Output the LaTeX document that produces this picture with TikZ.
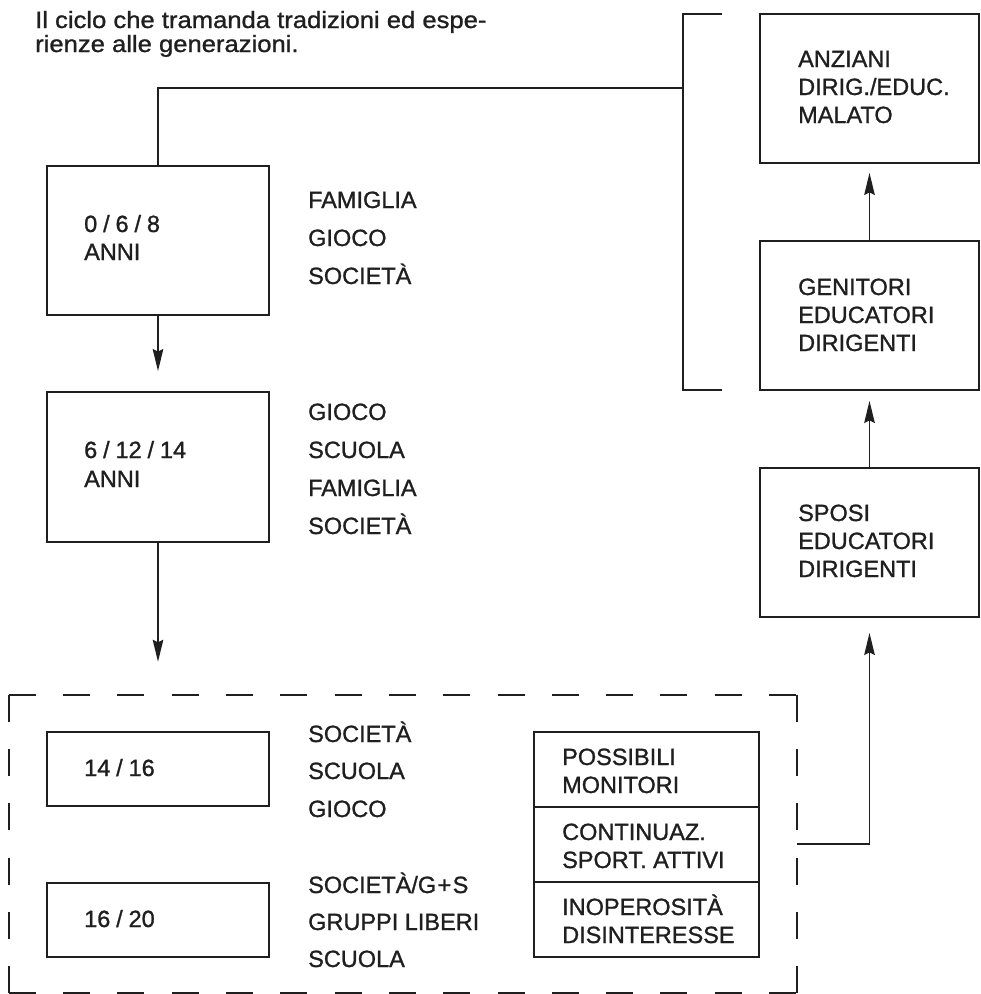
\documentclass[tikz,border=0pt]{standalone}
\usepackage{fontspec}
\setmainfont{Liberation Sans}
\newfontfamily\titlefont[FakeStretch=1.09,FakeBold=1.1]{Liberation Sans}
\newfontfamily\lblfont[FakeBold=1.1]{Liberation Sans}
\usetikzlibrary{arrows.meta}
\newcommand\slh{\kern.25em/\kern.25em}
\begin{document}
\begin{tikzpicture}[x=1pt,y=-1pt,
  box/.style={draw=black!88, line width=1.8pt, rectangle, inner sep=0pt},
  lbl/.style={anchor=base west, inner sep=0pt, text=black!88, font=\lblfont\fontsize{23.5}{27}\selectfont},
  ttl/.style={anchor=base west, inner sep=0pt, text=black!88, font=\titlefont\fontsize{23.5}{24}\selectfont},
  arr/.style={draw=black!88, line width=1.7pt, -{Stealth[length=22pt,width=10.5pt,inset=2.5pt]}},
  conn/.style={draw=black!88, line width=1.7pt},
  dsh/.style={draw=black!88, line width=1.8pt, dash pattern=on 27pt off 27.3pt}]
\useasboundingbox (0,0) rectangle (981,994);

% title
\node[ttl] (title1) at (35,28) {Il ciclo che tramanda tradizioni ed espe-};
\node[ttl] (title2) at (35,52) {rienze alle generazioni.};

% left column boxes
\node[box, minimum width=222pt, minimum height=149pt] (b1) at (158,240.5) {};
\node[box, minimum width=222pt, minimum height=150pt] (b2) at (158,467) {};
\node[box, minimum width=222pt, minimum height=74pt] (b3) at (158,769) {};
\node[box, minimum width=222pt, minimum height=74pt] (b4) at (158,920) {};

\node[lbl] (b1a) at (84,232) {0\slh 6\slh 8};
\node[lbl] (b1b) at (84,260) {ANNI};
\node[lbl] (b2a) at (84,458) {6\slh 12\slh 14};
\node[lbl] (b2b) at (84,487) {ANNI};
\node[lbl] (b3a) at (84,776) {14\slh 16};
\node[lbl] (b4a) at (84,927) {16\slh 20};

% side labels
\node[lbl] (l1a) at (308,208) {FAMIGLIA};
\node[lbl] (l1b) at (308,246) {GIOCO};
\node[lbl] (l1c) at (308,284) {SOCIETÀ};
\node[lbl] (l2a) at (308,420) {GIOCO};
\node[lbl] (l2b) at (308,458) {SCUOLA};
\node[lbl] (l2c) at (308,496) {FAMIGLIA};
\node[lbl] (l2d) at (308,534) {SOCIETÀ};
\node[lbl] (l3a) at (308,742) {SOCIETÀ};
\node[lbl] (l3b) at (308,779) {SCUOLA};
\node[lbl] (l3c) at (308,817) {GIOCO};
\node[lbl] (l4a) at (308,893) {SOCIETÀ/G\kern.06em+\kern.06em S};
\node[lbl] (l4b) at (308,930) {GRUPPI LIBERI};
\node[lbl] (l4c) at (308,967) {SCUOLA};

% stacked box
\node[box, minimum width=225pt, minimum height=75pt] (s1) at (646.5,769.5) {};
\node[box, minimum width=225pt, minimum height=75pt] (s2) at (646.5,844.5) {};
\node[box, minimum width=225pt, minimum height=75pt] (s3) at (646.5,919.5) {};
\node[lbl] (s1a) at (562,765) {POSSIBILI};
\node[lbl] (s1b) at (562,793) {MONITORI};
\node[lbl] (s2a) at (562,840) {CONTINUAZ.};
\node[lbl] (s2b) at (562,868) {SPORT. ATTIVI};
\node[lbl] (s3a) at (562,915) {INOPEROSITÀ};
\node[lbl] (s3b) at (562,943) {DISINTERESSE};

% dashed container
\node[minimum width=788pt, minimum height=298pt, inner sep=0pt] (dbox) at (403,844) {};
\draw[dsh] (dbox.north west) -- (dbox.north east);
\draw[dsh] (dbox.north east) -- (dbox.south east);
\draw[dsh] (dbox.south west) -- (dbox.south east);
\draw[dsh] (dbox.north west) -- (dbox.south west);

% right column
\node[box, minimum width=219pt, minimum height=149pt] (anz) at (869.5,88.5) {};
\node[box, minimum width=219pt, minimum height=149pt] (gen) at (869.5,315.5) {};
\node[box, minimum width=219pt, minimum height=149pt] (spo) at (869.5,542.5) {};
\node[lbl] (anza) at (798,67) {ANZIANI};
\node[lbl] (anzb) at (798,95) {DIRIG./EDUC.};
\node[lbl] (anzc) at (798,123) {MALATO};
\node[lbl] (gena) at (798,295) {GENITORI};
\node[lbl] (genb) at (798,323) {EDUCATORI};
\node[lbl] (genc) at (798,351) {DIRIGENTI};
\node[lbl] (spoa) at (798,521) {SPOSI};
\node[lbl] (spob) at (798,549) {EDUCATORI};
\node[lbl] (spoc) at (798,577) {DIRIGENTI};

% bracket and feedback
\draw[conn] (722,14) -- (683,14) -- (683,390) -- (722,390);
\coordinate (bkt) at (683,88);
\draw[conn] (bkt) -| (b1.north);

% arrows
\draw[arr, shorten >=20pt] (b1.south) -- (b2.north);
\draw[arr, shorten >=33pt] (b2.south) -- (b2.south |- dbox.north);
\draw[arr, shorten >=15pt] (dbox.east) -| (spo.south);
\draw[arr, shorten >=10pt] (spo.north) -- (gen.south);
\draw[arr, shorten >=9pt] (gen.north) -- (anz.south);
\end{tikzpicture}
\end{document}
